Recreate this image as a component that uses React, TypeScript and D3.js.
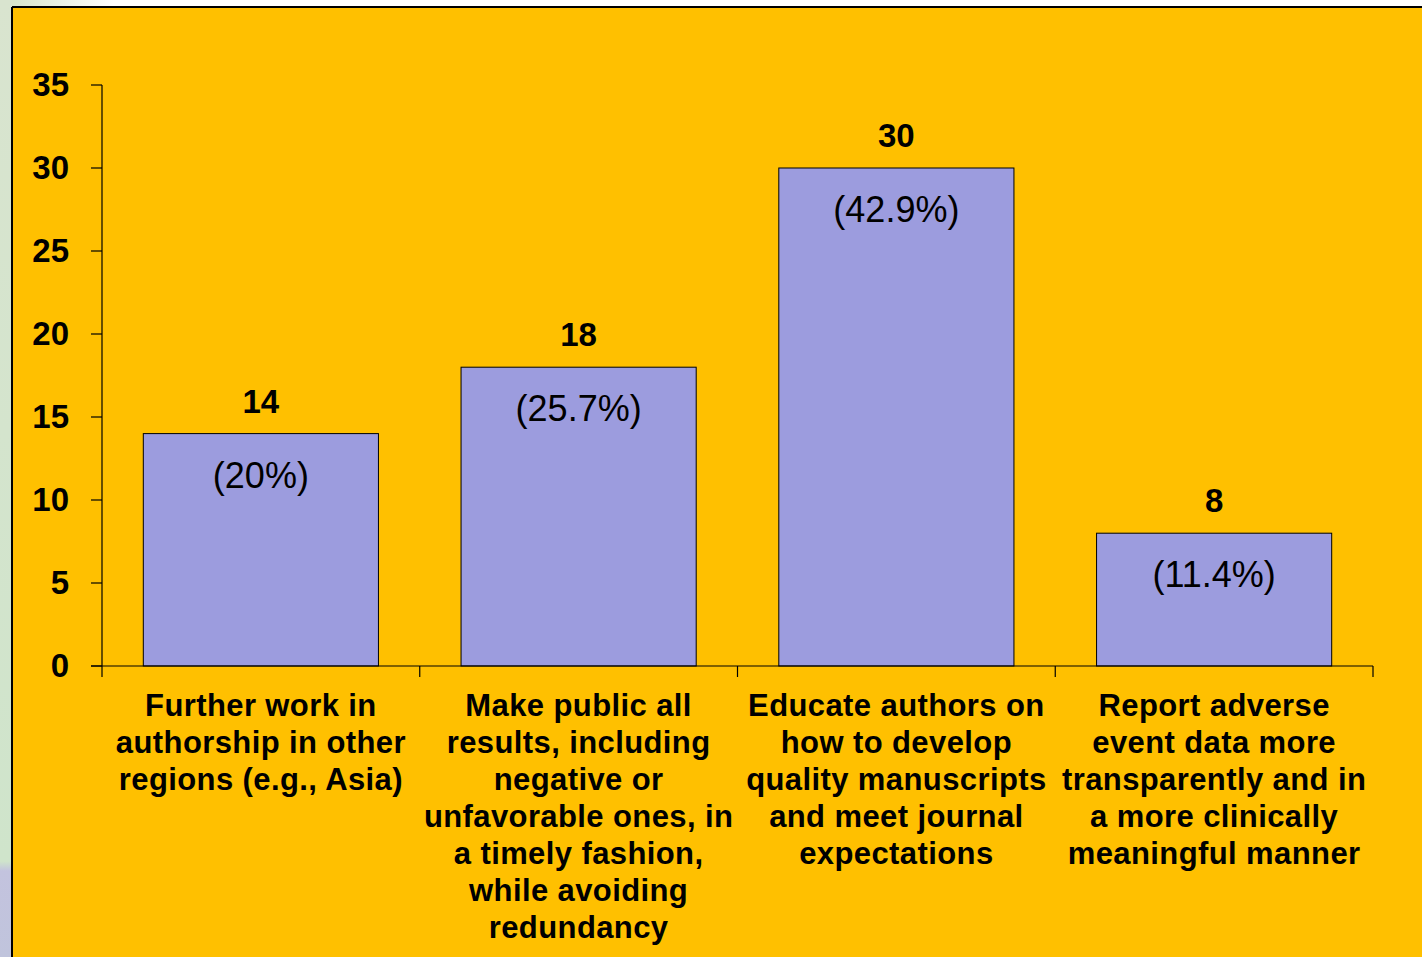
import React from "react";
import * as d3 from "d3";

const categories: string[][] = [
  ["Further work in", "authorship in other", "regions (e.g., Asia)"],
  ["Make public all", "results, including", "negative or", "unfavorable ones, in", "a timely fashion,", "while avoiding", "redundancy"],
  ["Educate authors on", "how to develop", "quality manuscripts", "and meet journal", "expectations"],
  ["Report adverse", "event data more", "transparently and in", "a more clinically", "meaningful manner"],
];
const values: number[] = [14, 18, 30, 8];
const percentLabels: string[] = ["(20%)", "(25.7%)", "(42.9%)", "(11.4%)"];
const yTicks: number[] = [0, 5, 10, 15, 20, 25, 30, 35];

const W = 1422;
const H = 957;
const x0 = 102;
const x1 = 1373;
const yTop = 85;
const yBottom = 666;

export default function App() {
  const idx = values.map((_, i) => i);
  const x = d3.scaleBand<number>().domain(idx).range([x0, x1]).paddingInner(0.26).paddingOuter(0.13);
  const step = (x1 - x0) / values.length;
  const y = d3.scaleLinear().domain([0, 35]).range([yBottom, yTop]);
  const font = "'Liberation Sans', Arial, sans-serif";

  return (
    <svg width={W} height={H} style={{ position: "absolute", left: 0, top: 0 }}>
      <defs>
        <linearGradient id="topg" x1="0" x2="1" y1="0" y2="0">
          <stop offset="0" stopColor="#d3e2c6" />
          <stop offset="0.08" stopColor="#ffffff" />
          <stop offset="1" stopColor="#ffffff" />
        </linearGradient>
        <linearGradient id="leftg" x1="0" x2="0" y1="0" y2="1">
          <stop offset="0" stopColor="#d9e4cf" />
          <stop offset="0.9" stopColor="#cfe4cb" />
          <stop offset="0.91" stopColor="#c3c3de" />
          <stop offset="1" stopColor="#c0c4dc" />
        </linearGradient>
      </defs>
      <rect x={0} y={0} width={W} height={H} fill="url(#topg)" />
      <rect x={0} y={0} width={12} height={H} fill="url(#leftg)" />
      <rect x={12} y={7} width={W - 12} height={H - 7} fill="#FFC000" />
      <line x1={12} y1={7} x2={W} y2={7} stroke="#000" strokeWidth={2} />
      <line x1={12} y1={7} x2={12} y2={H} stroke="#000" strokeWidth={2} />

      {/* bars */}
      {values.map((v, i) => (
        <rect
          key={i}
          x={x(i)!}
          y={y(v)}
          width={x.bandwidth()}
          height={y(0) - y(v)}
          fill="#9C9CDE"
          stroke="#000"
          strokeWidth={1}
        />
      ))}

      {/* y axis */}
      <line x1={x0} y1={yTop} x2={x0} y2={yBottom} stroke="#000" strokeWidth={1.2} />
      {yTicks.map((t) => (
        <g key={t}>
          <line x1={x0 - 11} x2={x0} y1={y(t)} y2={y(t)} stroke="#000" strokeWidth={1.2} />
          <text x={69} y={y(t) + 11} textAnchor="end" fontFamily={font} fontWeight="bold" fontSize={33} fill="#000">
            {t}
          </text>
        </g>
      ))}

      {/* x axis */}
      <line x1={x0 - 11} y1={yBottom} x2={x1} y2={yBottom} stroke="#000" strokeWidth={1.2} />
      {d3.range(values.length + 1).map((k) => (
        <line key={k} x1={x0 + k * step} x2={x0 + k * step} y1={yBottom} y2={yBottom + 11} stroke="#000" strokeWidth={1.2} />
      ))}

      {/* value labels */}
      {values.map((v, i) => {
        const cx = x(i)! + x.bandwidth() / 2;
        return (
          <g key={i}>
            <text x={cx} y={y(v) - 21} textAnchor="middle" fontFamily={font} fontWeight="bold" fontSize={33} fill="#000">
              {v}
            </text>
            <text x={cx} y={y(v) + 54} textAnchor="middle" fontFamily={font} fontSize={36} fill="#000">
              {percentLabels[i]}
            </text>
          </g>
        );
      })}

      {/* category labels */}
      {categories.map((lines, i) => {
        const cx = x0 + step * (i + 0.5);
        return (
          <text key={i} textAnchor="middle" fontFamily={font} fontWeight="bold" fontSize={31} letterSpacing={0.4} fill="#000">
            {lines.map((l, j) => (
              <tspan key={j} x={cx} y={716 + j * 37}>
                {l}
              </tspan>
            ))}
          </text>
        );
      })}
    </svg>
  );
}
